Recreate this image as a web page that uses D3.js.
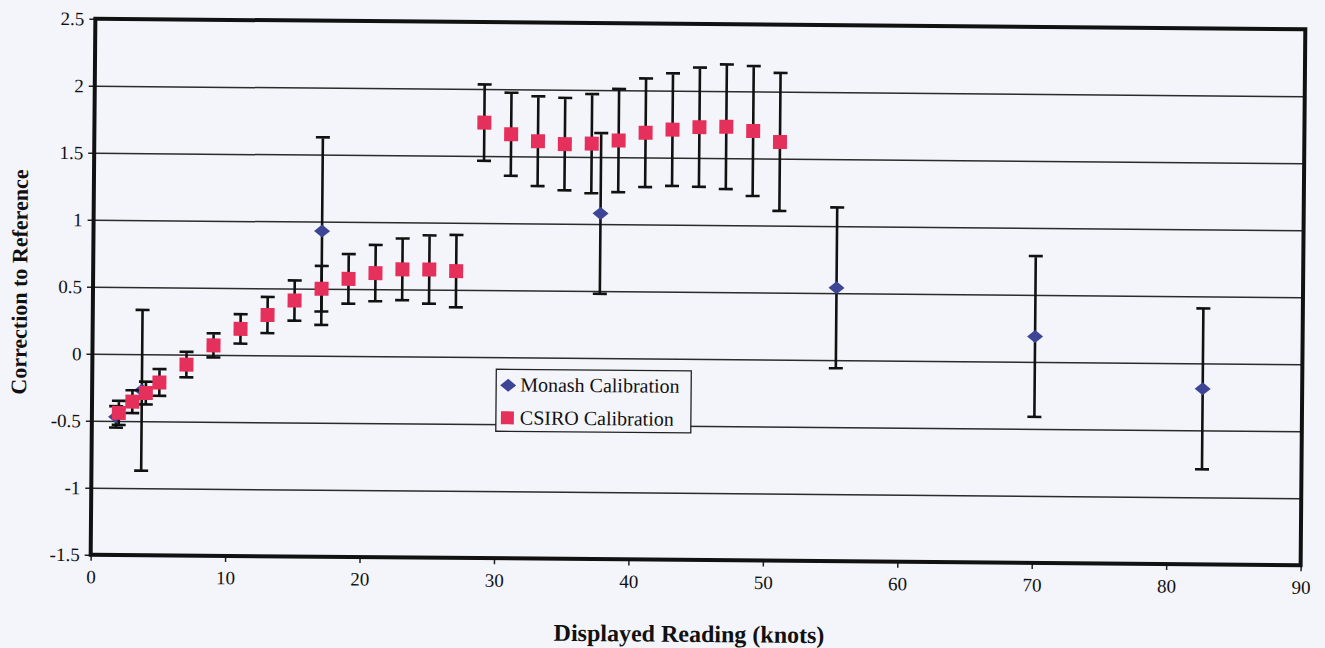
<!DOCTYPE html>
<meta charset="utf-8">
<script src="https://d3js.org/d3.v7.min.js"></script>
<style>
body { margin: 0; background: #f4f5fb; }
text { font-family: "Liberation Serif", "Times New Roman", serif; fill: #111; }
.grid line { stroke: #2b2b2b; stroke-width: 1.5px; }
.grid path { display: none; }
.axis path { display: none; }
.axis line { stroke: #222; stroke-width: 1.5px; }
.axis text { font-size: 19px; }
.err { stroke: #111; stroke-width: 2.6px; fill: none; }
</style>
<body>
<script>

// Monash calibration (diamonds)
var monashX   = [1.8, 3.7, 17, 37.7, 55.3, 70.1, 82.6];
var monashY   = [-0.47, -0.27, 0.93, 1.08, 0.54, 0.19, -0.19];
var monashErr = [0.08, 0.6, 0.7, 0.6, 0.6, 0.6, 0.6];

// CSIRO calibration (squares)
var csiroX   = [2, 3, 4, 5, 7, 9, 11, 13, 15, 17, 19, 21, 23, 25, 27, 29, 31, 33, 35, 37, 39, 41, 43, 45, 47, 49, 51];
var csiroY   = [-0.44, -0.355, -0.29, -0.21, -0.075, 0.07, 0.195, 0.30, 0.41, 0.50, 0.575, 0.62, 0.65, 0.65, 0.64,
                1.75, 1.665, 1.615, 1.595, 1.60, 1.625, 1.685, 1.71, 1.73, 1.735, 1.705, 1.625];
var csiroErr = [0.09, 0.085, 0.085, 0.1, 0.095, 0.09, 0.11, 0.135, 0.15, 0.17, 0.185, 0.21, 0.23, 0.255, 0.27,
                0.285, 0.31, 0.335, 0.345, 0.37, 0.385, 0.405, 0.42, 0.445, 0.465, 0.485, 0.515];

var xTicks = [0, 10, 20, 30, 40, 50, 60, 70, 80, 90];
var yTicks = [-1.5, -1, -0.5, 0, 0.5, 1, 1.5, 2, 2.5];
var seriesNames = ["Monash Calibration", "CSIRO Calibration"];

var width = 1325, height = 648;
var pL = 93, pR = 1303, pT = 24, pB = 560;

var svg = d3.select("body").append("svg")
    .attr("width", width)
    .attr("height", height);

// the scan is slightly tilted
var g = svg.append("g")
    .attr("transform", "rotate(0.5," + (pL + pR) / 2 + "," + (pT + pB) / 2 + ")");

var x = d3.scaleLinear().domain([0, 90]).range([pL, pR]);
var y = d3.scaleLinear().domain([-1.5, 2.5]).range([pB, pT]);

// gridlines
g.append("g")
    .attr("class", "grid")
    .attr("transform", "translate(" + pL + ",0)")
    .call(d3.axisLeft(y).tickValues(yTicks.slice(1, -1)).tickSize(-(pR - pL)).tickFormat(""));

// axes
g.append("g")
    .attr("class", "axis")
    .attr("transform", "translate(" + pL + ",0)")
    .call(d3.axisLeft(y).tickValues(yTicks).tickSize(6).tickPadding(5)
      .tickFormat(function(d) { return String(d); }));

g.append("g")
    .attr("class", "axis")
    .attr("transform", "translate(0," + pB + ")")
    .call(d3.axisBottom(x).tickValues(xTicks).tickSize(6).tickPadding(9));

// plot frame
g.append("rect")
    .attr("x", pL).attr("y", pT)
    .attr("width", pR - pL).attr("height", pB - pT)
    .attr("fill", "none")
    .attr("stroke", "#111")
    .attr("stroke-width", 4);

function errorBars(xs, ys, es) {
  var cap = 7;
  g.append("g").selectAll("path")
      .data(xs.map(function(d, i) { return {x: d, y: ys[i], e: es[i]}; }))
      .enter().append("path")
      .attr("class", "err")
      .attr("d", function(d) {
        var cx = x(d.x), y0 = y(d.y - d.e), y1 = y(d.y + d.e);
        return "M" + cx + "," + y0 + "V" + y1 +
               "M" + (cx - cap) + "," + y1 + "H" + (cx + cap) +
               "M" + (cx - cap) + "," + y0 + "H" + (cx + cap);
      });
}

var diamond = "M0,-6.5L8,0L0,6.5L-8,0Z";

errorBars(monashX, monashY, monashErr);
g.append("g").selectAll("path")
    .data(monashX)
    .enter().append("path")
    .attr("d", diamond)
    .attr("fill", "#3d4596")
    .attr("transform", function(d, i) { return "translate(" + x(d) + "," + y(monashY[i]) + ")"; });

errorBars(csiroX, csiroY, csiroErr);
g.append("g").selectAll("rect")
    .data(csiroX)
    .enter().append("rect")
    .attr("x", function(d) { return x(d) - 7; })
    .attr("y", function(d, i) { return y(csiroY[i]) - 7; })
    .attr("width", 14).attr("height", 14)
    .attr("fill", "#e6305c");

// axis titles
g.append("text")
    .attr("x", (pL + pR) / 2 - 6)
    .attr("y", 642)
    .attr("text-anchor", "middle")
    .attr("font-size", 24)
    .attr("font-weight", "bold")
    .text("Displayed Reading (knots)");

g.append("text")
    .attr("transform", "translate(27,288) rotate(-90)")
    .attr("text-anchor", "middle")
    .attr("font-size", 22)
    .attr("font-weight", "bold")
    .text("Correction to Reference");

// legend
var lg = g.append("g").attr("transform", "translate(497,371)");
lg.append("rect")
    .attr("width", 195).attr("height", 62)
    .attr("fill", "#f4f5fb")
    .attr("stroke", "#222")
    .attr("stroke-width", 1.3);
lg.append("path").attr("d", diamond).attr("fill", "#3d4596").attr("transform", "translate(12,16)");
lg.append("rect").attr("x", 5).attr("y", 42).attr("width", 13).attr("height", 13).attr("fill", "#e6305c");
lg.selectAll("text.leg")
    .data(seriesNames)
    .enter().append("text")
    .attr("class", "leg")
    .attr("x", 24)
    .attr("y", function(d, i) { return 22 + i * 33; })
    .attr("font-size", 20)
    .text(function(d) { return d; });

</script>
</body>
